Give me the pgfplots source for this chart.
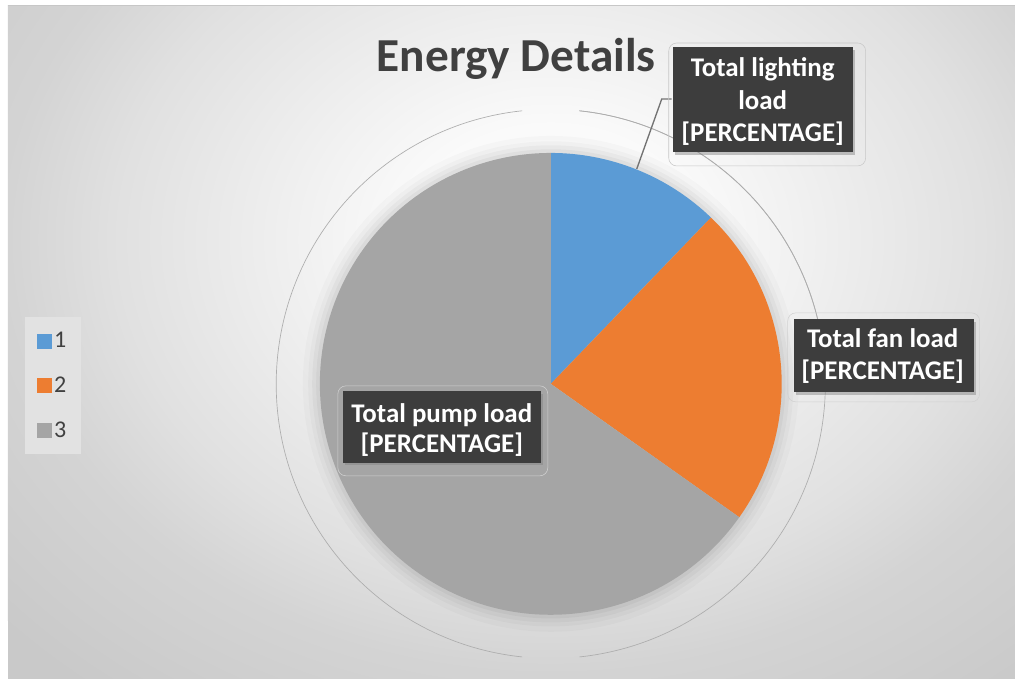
\documentclass[border=0pt]{standalone}
\usepackage{pgfplots}
\pgfplotsset{compat=1.18}
\usepackage{pgfplotstable}
\usepackage{fontspec}
\setmainfont{Carlito}
\usetikzlibrary{shadows}
\definecolor{cblue}{HTML}{5B9BD5}
\definecolor{corange}{HTML}{ED7D31}
\definecolor{cgray}{HTML}{A5A5A5}
\definecolor{boxbg}{HTML}{3D3D3D}
\definecolor{titlec}{HTML}{404040}
\definecolor{legbg}{HTML}{E2E2E2}
\pgfdeclareradialshading{bgshade}{\pgfpoint{0bp}{0bp}}{%
  color(0bp)=(white); color(10bp)=(black!2); color(20bp)=(black!7);
  color(30bp)=(black!12); color(37.5bp)=(black!17); color(50bp)=(black!21)}

\pgfplotstableread{
slice value
1 12.2
2 22.6
3 65.2
}\piedata

\begin{document}
\begin{tikzpicture}
\pgfplotstablegetelem{0}{value}\of\piedata \let\va\pgfplotsretval
\pgfplotstablegetelem{1}{value}\of\piedata \let\vb\pgfplotsretval
\pgfplotstablegetelem{2}{value}\of\piedata \let\vc\pgfplotsretval
\pgfmathsetmacro\aA{0}
\pgfmathsetmacro\aB{\va*3.6}
\pgfmathsetmacro\aC{(\va+\vb)*3.6}
\pgfmathsetmacro\aD{(\va+\vb+\vc)*3.6}
\begin{axis}[
  hide axis,
  x=0.75pt, y=0.75pt,
  xmin=0, xmax=1015, ymin=0, ymax=679,
  y dir=reverse,
  clip=false,
  legend style={at={(axis cs:25,317)}, anchor=north west, fill=legbg, draw=none,
    font=\fontsize{18}{21}\selectfont, text=titlec, row sep=16.5pt,
    inner xsep=8.75pt, inner ysep=9.25pt,
    /tikz/every even column/.append style={column sep=2pt}},
  legend cell align=left,
]
% background
\fill[white] (axis cs:0,0) rectangle (axis cs:1015,679);
\fill[black!21] (axis cs:8,5) rectangle (axis cs:1015,679);
\begin{scope}
\clip (axis cs:8,5) rectangle (axis cs:1015,679);
\node[inner sep=0, outer sep=0, xscale=10.88, yscale=8.55, transform shape]
  at (axis cs:551,240) {\pgfuseshading{bgshade}};
\end{scope}
\draw[black!22, line width=0.6pt] (axis cs:8,5) -- (axis cs:1015,5);
% faint outer ring (broken)
\draw[black!32, line width=0.5pt] (axis cs:551,384) ++(84:206pt) arc[start angle=84, end angle=-84, radius=206pt];
\draw[black!32, line width=0.5pt] (axis cs:551,384) ++(-96:206pt) arc[start angle=-96, end angle=-264, radius=206pt];
\draw[black!32, line width=0.5pt] (axis cs:551,384) ++(-276:206pt) arc[start angle=-276, end angle=-350, radius=206pt];
% soft shadow halo
\fill[black, opacity=0.02] (axis cs:551,384) circle[radius=186pt];
\fill[black, opacity=0.025] (axis cs:551,384) circle[radius=182pt];
\fill[black, opacity=0.03] (axis cs:551,384) circle[radius=179pt];
\fill[black, opacity=0.035] (axis cs:551,384) circle[radius=176pt];
% pie slices
\fill[cblue] (axis cs:551,384) -- (axis cs:{551+231*sin(\aA)},{384-231*cos(\aA)})
  arc[start angle={90-\aA}, end angle={90-\aB}, radius=173.25pt] -- cycle;
\fill[corange] (axis cs:551,384) -- (axis cs:{551+231*sin(\aB)},{384-231*cos(\aB)})
  arc[start angle={90-\aB}, end angle={90-\aC}, radius=173.25pt] -- cycle;
\fill[cgray] (axis cs:551,384) -- (axis cs:{551+231*sin(\aC)},{384-231*cos(\aC)})
  arc[start angle={90-\aC}, end angle={90-\aD}, radius=173.25pt] -- cycle;
% title
\node[anchor=base, inner sep=0, text=titlec, font=\fontsize{35.5}{42}\selectfont\bfseries]
  at (axis cs:516.5,72) {Energy Details};
% leader line
\draw[black!55, line width=1pt] (axis cs:672,99) -- (axis cs:662,99) -- (axis cs:637,169);
% label glow frames
\draw[black!22, line width=0.4pt, rounded corners=6pt] (axis cs:669,43) rectangle (axis cs:866,166);
\draw[black!18, line width=0.4pt, rounded corners=6pt] (axis cs:788,313) rectangle (axis cs:980,402);
\draw[black!18, line width=0.4pt, rounded corners=6pt] (axis cs:338,386) rectangle (axis cs:548,476);
% label boxes
\fill[boxbg, drop shadow={shadow xshift=1.5pt, shadow yshift=-2pt, opacity=0.45}]
  (axis cs:673,47) rectangle (axis cs:853,152);
\fill[boxbg, drop shadow={shadow xshift=1.5pt, shadow yshift=-2pt, opacity=0.45}]
  (axis cs:794,319) rectangle (axis cs:974,392);
\fill[boxbg, drop shadow={shadow xshift=1.5pt, shadow yshift=-2pt, opacity=0.45}]
  (axis cs:343,391) rectangle (axis cs:541,463);
\node[anchor=base, inner sep=0, text=white, font=\fontsize{20.2}{24}\selectfont\bfseries] at (axis cs:763,77) {Total lighting};
\node[anchor=base, inner sep=0, text=white, font=\fontsize{20.2}{24}\selectfont\bfseries] at (axis cs:763,110) {load};
\node[anchor=base, inner sep=0, text=white, font=\fontsize{20.2}{24}\selectfont\bfseries] at (axis cs:763,142) {[PERCENTAGE]};
\node[anchor=base, inner sep=0, text=white, font=\fontsize{20.2}{24}\selectfont\bfseries] at (axis cs:883,348) {Total fan load};
\node[anchor=base, inner sep=0, text=white, font=\fontsize{20.2}{24}\selectfont\bfseries] at (axis cs:883,380) {[PERCENTAGE]};
\node[anchor=base, inner sep=0, text=white, font=\fontsize{20.2}{24}\selectfont\bfseries] at (axis cs:442,423) {Total pump load};
\node[anchor=base, inner sep=0, text=white, font=\fontsize{20.2}{24}\selectfont\bfseries] at (axis cs:442,453) {[PERCENTAGE]};
% legend
\addlegendimage{legend image code/.code={\fill[cblue] (0pt,-5.25pt) rectangle (10.5pt,5.25pt);}}
\addlegendentry{1}
\addlegendimage{legend image code/.code={\fill[corange] (0pt,-5.25pt) rectangle (10.5pt,5.25pt);}}
\addlegendentry{2}
\addlegendimage{legend image code/.code={\fill[cgray] (0pt,-5.25pt) rectangle (10.5pt,5.25pt);}}
\addlegendentry{3}
\end{axis}
\end{tikzpicture}
\end{document}
